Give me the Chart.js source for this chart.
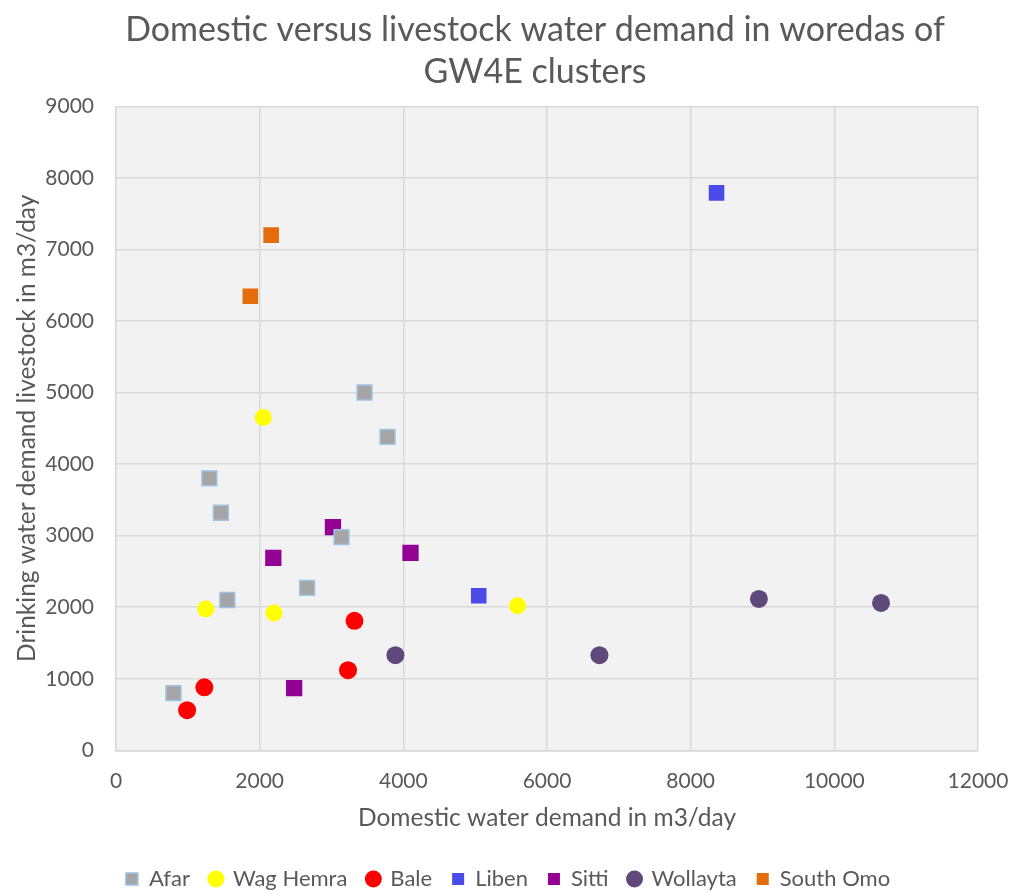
<!DOCTYPE html>
<html>
<head>
<meta charset="utf-8">
<script src="https://cdn.jsdelivr.net/npm/chart.js@4"></script>
<style>
  html, body { margin: 0; padding: 0; background: #ffffff; }
  #wrap { width: 1012px; height: 892px; }
</style>
</head>
<body>
<div id="wrap"><canvas id="waterChart" width="1012" height="892"></canvas></div>
<script>
// domestic (x) vs livestock (y) water demand, m3/day, per woreda
const afarX = [800, 1300, 1460, 1550, 2660, 3140, 3460, 3780];
const afarY = [800, 3800, 3320, 2100, 2270, 2980, 5000, 4380];
const wagHemraX = [2050, 1250, 2200, 5590];
const wagHemraY = [4650, 1975, 1920, 2020];
const baleX = [990, 1230, 3230, 3320];
const baleY = [560, 880, 1120, 1810];
const libenX = [8360, 5050];
const libenY = [7790, 2160];
const sittiX = [3020, 2190, 4100, 2480];
const sittiY = [3120, 2690, 2760, 870];
const wollaytaX = [3890, 6730, 8950, 10650];
const wollaytaY = [1330, 1330, 2115, 2060];
const southOmoX = [1870, 2160];
const southOmoY = [6345, 7200];

const fontFamily = "Lato, 'Open Sans', sans-serif";
const textColor = '#595959';

function toPoints(xs, ys) {
  return xs.map((x, i) => ({ x: x, y: ys[i] }));
}

function makeSeries(label, xs, ys, fill, border, style, radius, borderWidth = 0) {
  return {
    label: label,
    data: toPoints(xs, ys),
    backgroundColor: fill,
    borderColor: border,
    borderWidth: borderWidth,
    pointStyle: style,
    pointRadius: radius,
    pointHoverRadius: radius
  };
}

// light grey plot area like the original
const plotBackground = {
  id: 'plotBackground',
  beforeDraw(chart) {
    const { ctx, chartArea } = chart;
    ctx.save();
    ctx.fillStyle = '#F2F2F2';
    ctx.fillRect(chartArea.left, chartArea.top, chartArea.right - chartArea.left, chartArea.bottom - chartArea.top);
    ctx.restore();
  }
};

// the original title sits a bit left of the plot centre
const nudgeTitle = {
  id: 'nudgeTitle',
  afterLayout(chart) {
    if (chart.titleBlock) {
      chart.titleBlock.left -= 12;
      chart.titleBlock.right -= 12;
    }
  }
};

const ctx = document.getElementById('waterChart').getContext('2d');
const chart = new Chart(ctx, {
  type: 'scatter',
  data: {
    datasets: [
      makeSeries('Afar', afarX, afarY, '#A5A5A5', '#9DC3E6', 'rect', 10.5, 1.5),
      makeSeries('Wag Hemra', wagHemraX, wagHemraY, '#FFFF00', '#FFFF00', 'circle', 8.5),
      makeSeries('Bale', baleX, baleY, '#FF0000', '#FF0000', 'circle', 9),
      makeSeries('Liben', libenX, libenY, '#4B4BE8', '#4B4BE8', 'rect', 11),
      makeSeries('Sitti', sittiX, sittiY, '#930093', '#930093', 'rect', 11.5),
      makeSeries('Wollayta', wollaytaX, wollaytaY, '#5F497A', '#5F497A', 'circle', 9),
      makeSeries('South Omo', southOmoX, southOmoY, '#E46C0A', '#E46C0A', 'rect', 11)
    ]
  },
  options: {
    responsive: false,
    animation: false,
    devicePixelRatio: 1,
    layout: {
      padding: { left: 8, right: 4, top: 0, bottom: -8 }
    },
    plugins: {
      title: {
        display: true,
        fullSize: false,
        text: ['Domestic versus livestock water demand in woredas of', 'GW4E clusters'],
        color: textColor,
        font: { family: fontFamily, size: 34, weight: 'normal', lineHeight: 1.24 },
        padding: { top: 9, bottom: 13 }
      },
      legend: {
        position: 'bottom',
        labels: {
          usePointStyle: true,
          boxWidth: 12,
          boxHeight: 12,
          color: textColor,
          font: { family: fontFamily, size: 22 },
          padding: 20
        }
      },
      tooltip: { enabled: false }
    },
    scales: {
      x: {
        min: 0,
        max: 12000,
        ticks: {
          stepSize: 2000,
          color: textColor,
          font: { family: fontFamily, size: 21 },
          padding: 18,
          callback: (v) => String(v)
        },
        grid: { color: '#D9D9D9', lineWidth: 1.5, drawTicks: false },
        border: { color: '#D9D9D9', width: 1.5 },
        title: {
          display: true,
          text: 'Domestic water demand in m3/day',
          color: textColor,
          font: { family: fontFamily, size: 24.5, lineHeight: 1 },
          padding: { top: -6, bottom: 18 }
        },
        afterFit(scale) { scale.paddingRight = 34; }
      },
      y: {
        min: 0,
        max: 9000,
        ticks: {
          stepSize: 1000,
          color: textColor,
          font: { family: fontFamily, size: 21 },
          padding: 22,
          callback: (v) => String(v)
        },
        grid: { color: '#D9D9D9', lineWidth: 1.5, drawTicks: false },
        border: { color: '#D9D9D9', width: 1.5 },
        title: {
          display: true,
          text: 'Drinking water demand livestock in m3/day',
          color: textColor,
          font: { family: fontFamily, size: 24.5 },
          padding: { top: 4, bottom: 0 }
        },
        afterFit(scale) { scale.width = 108; }
      }
    }
  },
  plugins: [plotBackground, nudgeTitle]
});
</script>
</body>
</html>
